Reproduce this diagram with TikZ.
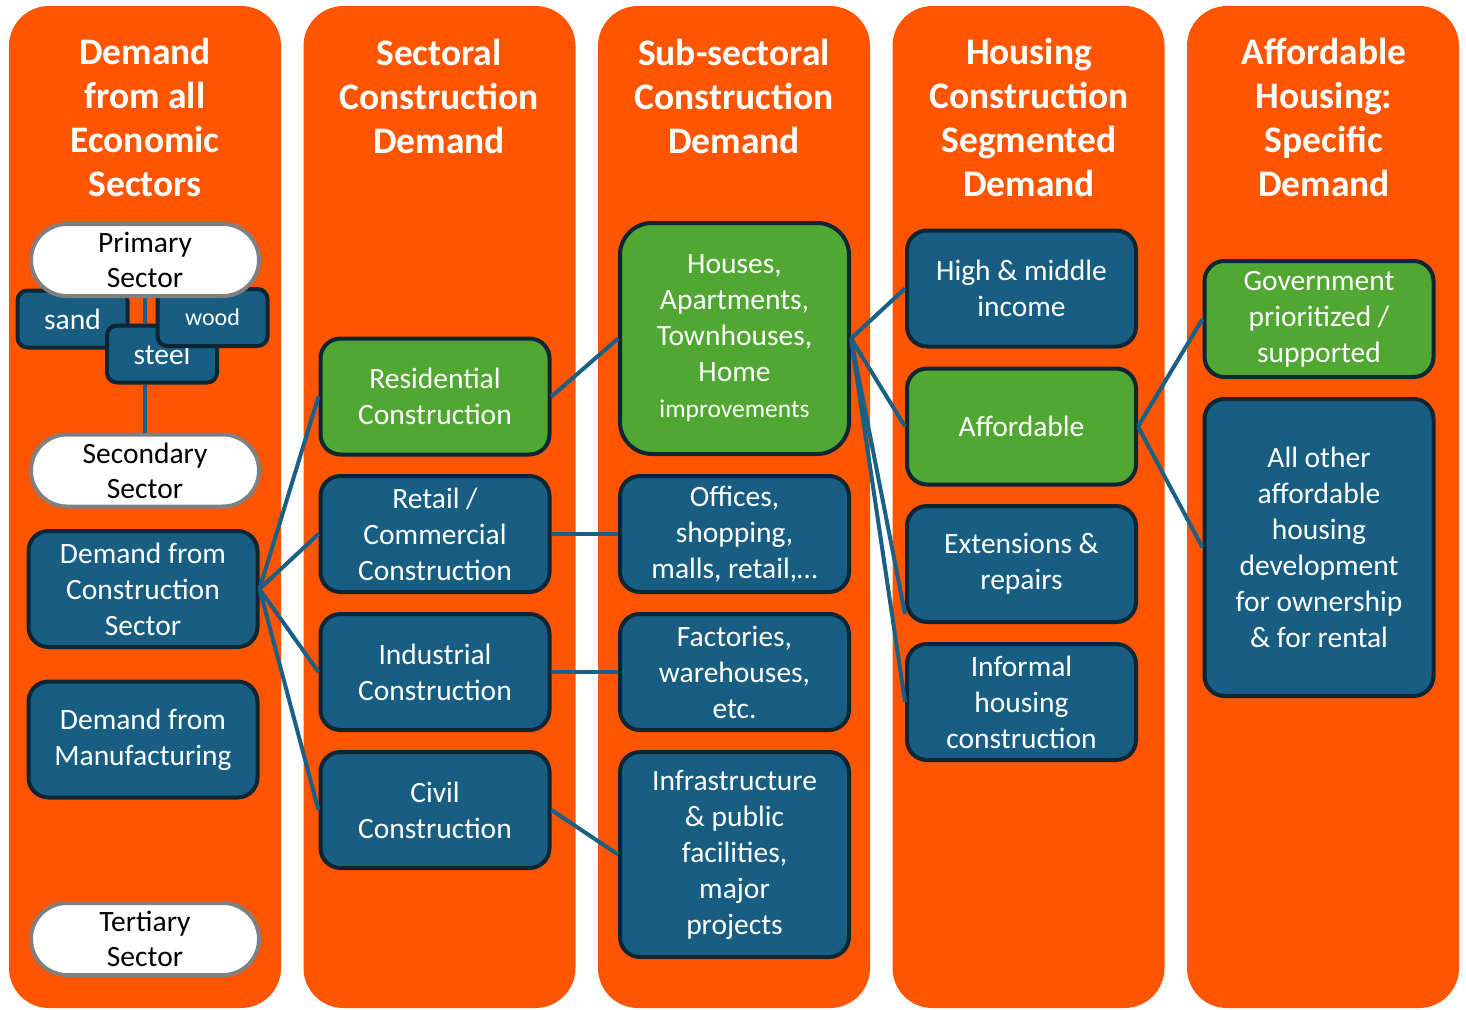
\documentclass[tikz,border=0pt]{standalone}
\usepackage{fontspec}
\setmainfont{Carlito}
\usetikzlibrary{calc}
\definecolor{panelorange}{RGB}{255,85,0}
\definecolor{boxblue}{RGB}{23,94,130}
\definecolor{boxgreen}{RGB}{80,167,50}
\definecolor{boxedge}{RGB}{12,38,54}
\definecolor{pillgray}{RGB}{128,128,128}
\definecolor{linkblue}{RGB}{26,96,132}
\tikzset{
  panel/.style={fill=panelorange, draw=none, rounded corners=40pt},
  heading/.style={text=white, align=center, font=\bfseries\fontsize{37.5}{44}\selectfont},
  card/.style={draw=boxedge, line width=4pt, rounded corners=20pt, text=white,
    align=center, inner sep=0pt, minimum width=229pt, minimum height=116pt,
    font=\fontsize{29.5}{36}\selectfont},
  bluecard/.style={card, fill=boxblue},
  greencard/.style={card, fill=boxgreen},
  pill/.style={draw=pillgray, fill=white, line width=4pt, rounded corners=36pt,
    text=black, align=center, inner sep=0pt, minimum width=228pt, minimum height=72pt,
    font=\fontsize{29.5}{35}\selectfont},
  material/.style={draw=boxedge, fill=boxblue, line width=4pt, rounded corners=10pt,
    text=white, inner sep=0pt, minimum width=110pt, minimum height=57pt,
    font=\fontsize{29.5}{35}\selectfont},
  link/.style={draw=linkblue, line width=4pt}
}
\begin{document}
\begin{tikzpicture}[x=1pt,y=-1pt]
\useasboundingbox (0,0) rectangle (1466,1009);
\fill[white] (0,0) rectangle (1466,1009);

% the five column panels
\foreach \x in {9,303.5,598,892.5,1187}
  \fill[panel] (\x,6) rectangle (\x+272,1008);

% column headings
\node[heading] (h1) at (145,117) {Demand\\from all\\Economic\\Sectors};
\node[heading] (h2) at (439,96) {Sectoral\\Construction\\Demand};
\node[heading] (h3) at (734,96) {Sub-sectoral\\Construction\\Demand};
\node[heading] (h4) at (1029,117) {Housing\\Construction\\Segmented\\Demand};
\node[heading] (h5) at (1324,117) {Affordable\\Housing:\\Specific\\Demand};

% first column: economic sectors and raw materials
\node[material] (sand) at (72.5,319) {sand};
\node[material] (steel) at (162,354) {steel};
\node[material, font=\fontsize{24}{30}\selectfont] (wood) at (212.5,317.5) {wood};
\node[pill] (primary) at (145,260) {Primary\\Sector};
\node[pill] (secondary) at (145,470.5) {Secondary\\Sector};
\draw[link] (primary.south) -- (primary.south |- steel.north);
\draw[link] (secondary.north |- steel.south) -- (secondary.north);
\node[bluecard] (dfc) at (143,589) {Demand from\\Construction\\Sector};
\node[bluecard] (dfm) at (143,739.5) {Demand from\\Manufacturing};
\node[pill] (tertiary) at (145,939) {Tertiary\\Sector};

% second column: construction by sector
\node[greencard] (res) at (435,396.5) {Residential\\Construction};
\node[bluecard] (ret) at (435,534) {Retail /\\Commercial\\Construction};
\node[bluecard] (ind) at (435,672) {Industrial\\Construction};
\node[bluecard] (civ) at (435,810) {Civil\\Construction};

% third column: sub-sectors
\node[greencard, minimum height=231pt, rounded corners=32pt] (hou) at (734.5,338.5)
  {Houses,\\Apartments,\\Townhouses,\\Home\\{\fontsize{25.5}{34}\selectfont improvements}};
\node[bluecard] (off) at (734.5,534) {Offices,\\shopping,\\malls, retail,\dots};
\node[bluecard] (fac) at (734.5,672) {Factories,\\warehouses,\\etc.};
\node[bluecard, minimum height=205pt] (inf) at (734.5,854.5)
  {Infrastructure\\\& public\\facilities,\\major\\projects};

% fourth column: housing segments
\node[bluecard] (hmi) at (1021.5,288.5) {High \& middle\\income};
\node[greencard] (aff) at (1021.5,426.5) {Affordable};
\node[bluecard] (ext) at (1021.5,564) {Extensions \&\\repairs};
\node[bluecard] (inh) at (1021.5,702) {Informal\\housing\\construction};

% fifth column: affordable housing
\node[greencard] (gov) at (1319,319) {Government\\prioritized /\\supported};
\node[bluecard, minimum height=297pt] (oth) at (1319,547.5)
  {All other\\affordable\\housing\\development\\for ownership\\\& for rental};

% connectors
\foreach \t in {res,ret,ind,civ}
  \draw[link] (dfc.east) -- (\t.west);
\draw[link] (res.east) -- (hou.west);
\draw[link] (ret.east) -- (off.west);
\draw[link] (ind.east) -- (fac.west);
\draw[link] (civ.east) -- (inf.west);
\draw[link] (hou.east) -- (hmi.west);
\draw[link] (hou.east) -- (aff.west);
\draw[link] (hou.east) -- ($(ext.south west)+(0,-10)$);
\draw[link] (hou.east) -- (inh.west);
\draw[link] (aff.east) -- (gov.west);
\draw[link] (aff.east) -- (oth.west);
\end{tikzpicture}
\end{document}
